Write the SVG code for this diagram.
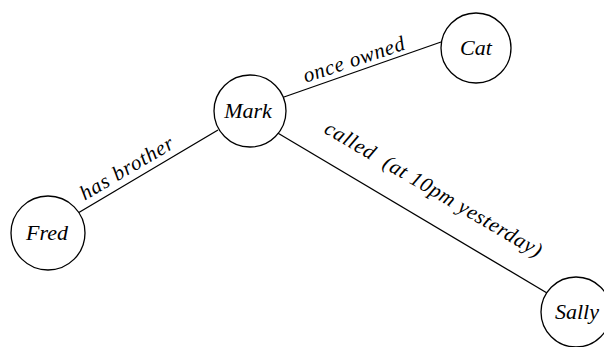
<svg xmlns="http://www.w3.org/2000/svg" width="604" height="347" viewBox="0 0 604 347">
<style>
.node{fill:#fff;stroke:#000;stroke-width:1.3}
.nl{font-family:"Liberation Serif",serif;font-style:italic;font-size:22px;text-anchor:middle;fill:#000}
.el{font-family:"Liberation Serif",serif;font-style:italic;font-size:21px;text-anchor:middle;fill:#000;white-space:pre}
.edge{stroke:#000;stroke-width:1.3;fill:none}
</style>
<rect width="604" height="347" fill="#fff"/>
<g id="connectors">
<line class="edge" x1="284" y1="97" x2="441" y2="42"/>
<line class="edge" x1="218" y1="130" x2="78" y2="213"/>
<line class="edge" x1="276" y1="132" x2="547" y2="293"/>
</g>
<g id="edge-labels">
<text class="el" transform="translate(356,66) rotate(-18.5)" textLength="106">once owned</text>
<text class="el" transform="translate(130,174) rotate(-30.5)" textLength="105">has brother</text>
<text class="el" transform="translate(430,195) rotate(30.4)" textLength="248" xml:space="preserve">called  (at 10pm yesterday)</text>
</g>
<g id="node-mark"><circle class="node" cx="250" cy="111" r="36"/><text class="nl" x="248" y="118">Mark</text></g>
<g id="node-cat"><circle class="node" cx="476" cy="48" r="35"/><text class="nl" x="476" y="55">Cat</text></g>
<g id="node-fred"><circle class="node" cx="48" cy="233" r="37"/><text class="nl" x="47" y="240">Fred</text></g>
<g id="node-sally"><circle class="node" cx="576" cy="312" r="35"/><text class="nl" x="577" y="319">Sally</text></g>
</svg>
